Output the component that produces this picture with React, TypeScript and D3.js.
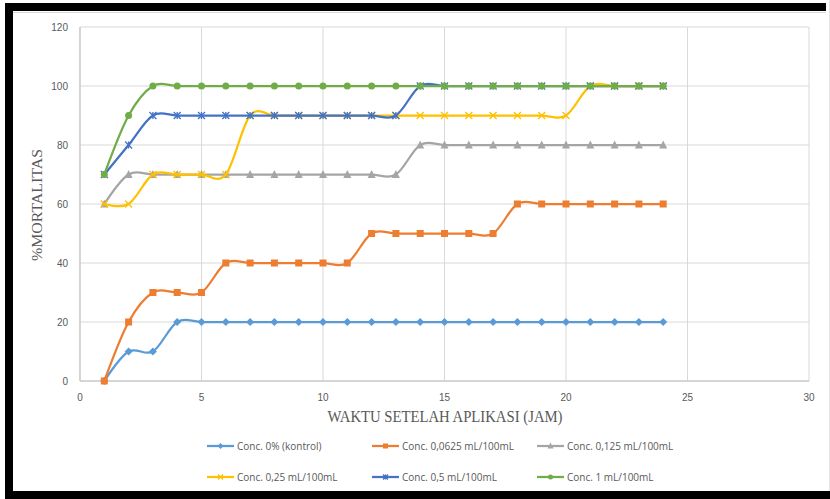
import React from "react";
import * as d3 from "d3";

const hours = [1, 2, 3, 4, 5, 6, 7, 8, 9, 10, 11, 12, 13, 14, 15, 16, 17, 18, 19, 20, 21, 22, 23, 24];

const kontrol = [0, 10, 10, 20, 20, 20, 20, 20, 20, 20, 20, 20, 20, 20, 20, 20, 20, 20, 20, 20, 20, 20, 20, 20];
const conc00625 = [0, 20, 30, 30, 30, 40, 40, 40, 40, 40, 40, 50, 50, 50, 50, 50, 50, 60, 60, 60, 60, 60, 60, 60];
const conc0125 = [60, 70, 70, 70, 70, 70, 70, 70, 70, 70, 70, 70, 70, 80, 80, 80, 80, 80, 80, 80, 80, 80, 80, 80];
const conc025 = [60, 60, 70, 70, 70, 70, 90, 90, 90, 90, 90, 90, 90, 90, 90, 90, 90, 90, 90, 90, 100, 100, 100, 100];
const conc05 = [70, 80, 90, 90, 90, 90, 90, 90, 90, 90, 90, 90, 90, 100, 100, 100, 100, 100, 100, 100, 100, 100, 100, 100];
const conc1 = [70, 90, 100, 100, 100, 100, 100, 100, 100, 100, 100, 100, 100, 100, 100, 100, 100, 100, 100, 100, 100, 100, 100, 100];

const xTicks = [0, 5, 10, 15, 20, 25, 30];
const yTicks = [0, 20, 40, 60, 80, 100, 120];

type Marker = "diamond" | "square" | "triangle" | "x" | "star" | "circle";

const series: { name: string; values: number[]; color: string; marker: Marker }[] = [
  { name: "Conc. 0% (kontrol)", values: kontrol, color: "#5B9BD5", marker: "diamond" },
  { name: "Conc. 0,0625 mL/100mL", values: conc00625, color: "#ED7D31", marker: "square" },
  { name: "Conc. 0,125 mL/100mL", values: conc0125, color: "#A5A5A5", marker: "triangle" },
  { name: "Conc. 0,25 mL/100mL", values: conc025, color: "#FFC000", marker: "x" },
  { name: "Conc. 0,5 mL/100mL", values: conc05, color: "#4472C4", marker: "star" },
  { name: "Conc. 1 mL/100mL", values: conc1, color: "#70AD47", marker: "circle" },
];

const W = 830;
const H = 499;
const plot = { left: 80, right: 809, top: 27, bottom: 381 };

function MarkerShape({ kind, x, y, color, s }: { kind: Marker; x: number; y: number; color: string; s: number }) {
  const h = s / 2;
  switch (kind) {
    case "diamond":
      return <path d={`M${x},${y - h - 0.5}L${x + h + 0.5},${y}L${x},${y + h + 0.5}L${x - h - 0.5},${y}Z`} fill={color} />;
    case "square":
      return <rect x={x - h} y={y - h} width={s} height={s} fill={color} />;
    case "triangle":
      return <path d={`M${x},${y - h - 1}L${x + h + 0.5},${y + h}L${x - h - 0.5},${y + h}Z`} fill={color} />;
    case "x":
      return (
        <path d={`M${x - h},${y - h}L${x + h},${y + h}M${x - h},${y + h}L${x + h},${y - h}`} stroke={color} strokeWidth={1.3} fill="none" />
      );
    case "star":
      return (
        <path
          d={`M${x - h},${y - h}L${x + h},${y + h}M${x - h},${y + h}L${x + h},${y - h}M${x},${y - h}L${x},${y + h}`}
          stroke={color}
          strokeWidth={1.3}
          fill="none"
        />
      );
    case "circle":
      return <circle cx={x} cy={y} r={h} fill={color} />;
  }
}

export default function App() {
  const x = d3.scaleLinear().domain([0, 30]).range([plot.left, plot.right]);
  const y = d3.scaleLinear().domain([0, 120]).range([plot.bottom, plot.top]);

  const line = d3
    .line<number>()
    .x((_, i) => x(hours[i]))
    .y((v) => y(v))
    .curve(d3.curveCardinal.tension(0));

  const tickFont = "'Liberation Sans', Arial, sans-serif";
  const serif = "'Liberation Serif', 'Times New Roman', serif";
  const legendFont = "'Open Sans', 'Noto Sans', sans-serif";

  const legendCols = [207, 372, 537];
  const legendRows = [446, 477];

  return (
    <svg width={W} height={H} style={{ position: "absolute", left: 0, top: 0, background: "#fff" }}>
      <rect x={0} y={0} width={W} height={H} fill="#fff" />

      {/* outer frame */}
      <rect x={5} y={3} width={821} height={8} fill="#000" />
      <rect x={5} y={3} width={8} height={496} fill="#000" />
      <rect x={5} y={491} width={825} height={8} fill="#000" />
      <line x1={13} x2={826} y1={12.5} y2={12.5} stroke="#d9d9d9" strokeWidth={1} />
      <line x1={829.5} x2={829.5} y1={0} y2={491} stroke="#e6e6e6" strokeWidth={1} />

      {/* gridlines */}
      {yTicks.map((t) => (
        <line key={"gy" + t} x1={plot.left} x2={plot.right} y1={y(t)} y2={y(t)} stroke="#d9d9d9" strokeWidth={1} />
      ))}
      {xTicks.map((t) => (
        <line key={"gx" + t} x1={x(t)} x2={x(t)} y1={plot.top} y2={plot.bottom} stroke="#d9d9d9" strokeWidth={1} />
      ))}
      <line x1={plot.left} x2={plot.right} y1={plot.bottom} y2={plot.bottom} stroke="#bfbfbf" strokeWidth={1} />
      <line x1={plot.left} x2={plot.left} y1={plot.top} y2={plot.bottom} stroke="#bfbfbf" strokeWidth={1} />

      {/* tick labels */}
      {yTicks.map((t) => (
        <text key={"ty" + t} x={68} y={y(t) + 3.5} textAnchor="end" fontSize={10} fill="#595959" fontFamily={tickFont}>
          {t}
        </text>
      ))}
      {xTicks.map((t) => (
        <text key={"tx" + t} x={x(t)} y={401} textAnchor="middle" fontSize={10} fill="#595959" fontFamily={tickFont}>
          {t}
        </text>
      ))}

      {/* axis titles */}
      <text x={445} y={422} textAnchor="middle" fontSize={16} fill="#595959" fontFamily={serif} textLength={235} lengthAdjust="spacingAndGlyphs">
        WAKTU SETELAH APLIKASI (JAM)
      </text>
      <text
        transform={`translate(42,205) rotate(-90)`}
        textAnchor="middle"
        fontSize={15}
        fill="#595959"
        fontFamily={serif}
        textLength={112}
        lengthAdjust="spacingAndGlyphs"
      >
        %MORTALITAS
      </text>

      {/* series */}
      {series.map((s) => (
        <g key={s.name}>
          <path d={line(s.values) || ""} fill="none" stroke={s.color} strokeWidth={2.25} strokeLinejoin="round" />
          {s.values.map((v, i) => (
            <MarkerShape key={i} kind={s.marker} x={x(hours[i])} y={y(v)} color={s.color} s={7} />
          ))}
        </g>
      ))}

      {/* legend */}
      {series.map((s, i) => {
        const lx = legendCols[i % 3];
        const ly = legendRows[Math.floor(i / 3)];
        return (
          <g key={"lg" + s.name}>
            <line x1={lx} x2={lx + 27} y1={ly} y2={ly} stroke={s.color} strokeWidth={2.25} />
            <MarkerShape kind={s.marker} x={lx + 13.5} y={ly} color={s.color} s={5} />
            <text x={lx + 30} y={ly + 3.5} fontSize={10} fill="#595959" fontFamily={legendFont}>
              {s.name}
            </text>
          </g>
        );
      })}
    </svg>
  );
}
